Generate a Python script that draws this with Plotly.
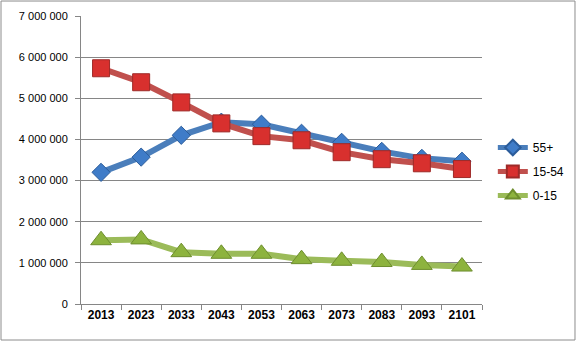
import plotly.graph_objects as go

years = ["2013", "2023", "2033", "2043", "2053", "2063", "2073", "2083", "2093", "2101"]
age_55_plus = [3200000, 3570000, 4100000, 4420000, 4370000, 4150000, 3930000, 3710000, 3540000, 3470000]
age_15_54 = [5730000, 5390000, 4900000, 4390000, 4080000, 3980000, 3690000, 3520000, 3420000, 3280000]
age_0_15 = [1550000, 1570000, 1260000, 1220000, 1220000, 1090000, 1050000, 1020000, 950000, 910000]

y_tickvals = [0, 1000000, 2000000, 3000000, 4000000, 5000000, 6000000, 7000000]
y_ticktext = ["0", "1 000 000", "2 000 000", "3 000 000", "4 000 000", "5 000 000", "6 000 000", "7 000 000"]

fig = go.Figure()
fig.add_trace(go.Scatter(
    x=years, y=age_55_plus, name="55+", mode="lines+markers", legendgroup="a",
    line=dict(color="#4A7EBB", width=6),
    marker=dict(symbol="diamond", size=14, color="#3F7CC8", line=dict(color="#2B5C9A", width=1)),
))
fig.add_trace(go.Scatter(
    x=years, y=age_15_54, name="15-54", mode="lines+markers", legendgroup="b",
    line=dict(color="#C0504D", width=6),
    marker=dict(symbol="square", size=17, color="#D8302E", line=dict(color="#9E2A28", width=1)),
))
fig.add_trace(go.Scatter(
    x=years, y=age_0_15, name="0-15", mode="lines+markers", legendgroup="c",
    line=dict(color="#9BBB59", width=6),
    marker=dict(symbol="triangle-up", size=18, color="#8DB33E", line=dict(color="#6E8E2E", width=1)),
))

fig.update_layout(
    width=577, height=342,
    margin=dict(l=81, r=95, t=16, b=38, autoexpand=False),
    paper_bgcolor="white", plot_bgcolor="white",
    font=dict(family="Liberation Sans, Arial, sans-serif", size=11, color="black"),
    showlegend=True,
    legend=dict(x=1.027, y=0.46, xanchor="left", yanchor="middle",
                font=dict(size=12), itemwidth=30, bgcolor="rgba(0,0,0,0)",
                itemsizing="constant", tracegroupgap=5),
    shapes=[dict(type="rect", xref="paper", yref="paper",
                 x0=-0.1995, x1=1.2319, y0=-0.125, y1=1.052,
                 line=dict(color="#8C8C8C", width=1), layer="below")],
)
fig.update_xaxes(
    type="category", showgrid=False, showline=True, linecolor="#868686", linewidth=1,
    ticks="outside", tickson="boundaries", ticklen=5, tickcolor="#868686",
    tickfont=dict(family="Liberation Sans, Arial, sans-serif", size=12, color="black", weight="bold"),
    range=[-0.5, 9.5],
)
fig.update_yaxes(
    range=[0, 7000000], tickvals=y_tickvals, ticktext=y_ticktext,
    showgrid=True, gridcolor="#868686", gridwidth=1,
    showline=True, linecolor="#868686", linewidth=1,
    ticks="outside", ticklen=5, tickcolor="#868686", zeroline=False,
    ticklabelstandoff=5,
    tickfont=dict(size=11, color="black"),
)

fig.write_html("out.html")
